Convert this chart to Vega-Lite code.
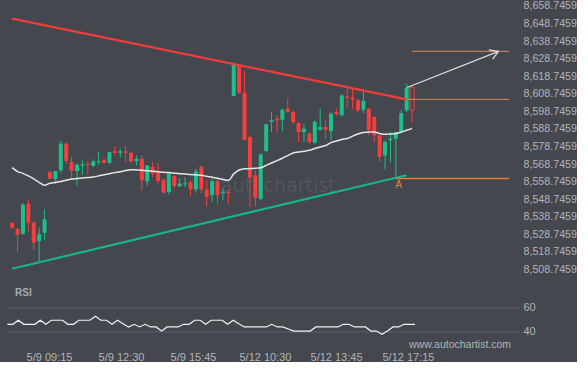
{
  "$schema": "https://vega.github.io/schema/vega-lite/v6.json",
  "background": "#44474d",
  "padding": {"top": -1, "left": 0, "right": 0, "bottom": 0},
  "spacing": 0,
  "bounds": "flush",
  "config": {
    "view": {"stroke": null},
    "font": "Liberation Sans",
    "axis": {"domain": false, "ticks": false, "tickSize": 0, "grid": false, "labelColor": "#b1b5ba", "labelFont": "Liberation Sans", "labelFontSize": 11, "labelOverlap": false}
  },
  "datasets": {
    "candles": [
      {"i":0,"o":8535.2,"h":8535.5,"l":8532.0,"c":8532.5,"ma":8566.7,"rsi":46.4},
      {"i":1,"o":8531.8,"h":8532.4,"l":8518.7,"c":8528.6,"ma":8564.5,"rsi":46.4},
      {"i":2,"o":8529.1,"h":8546.6,"l":8528.4,"c":8545.6,"ma":8563.5,"rsi":49.8},
      {"i":3,"o":8546.2,"h":8548.3,"l":8530.5,"c":8535.4,"ma":8562.0,"rsi":46.4},
      {"i":4,"o":8535.4,"h":8536.4,"l":8519.7,"c":8524.0,"ma":8560.3,"rsi":46.4},
      {"i":5,"o":8524.9,"h":8532.8,"l":8513.0,"c":8528.8,"ma":8558.3,"rsi":46.4},
      {"i":6,"o":8529.7,"h":8543.0,"l":8525.4,"c":8537.3,"ma":8556.7,"rsi":49.8},
      {"i":7,"o":8564.3,"h":8565.2,"l":8560.1,"c":8560.4,"ma":8557.9,"rsi":46.4},
      {"i":8,"o":8560.1,"h":8565.0,"l":8557.6,"c":8564.8,"ma":8558.3,"rsi":49.8},
      {"i":9,"o":8565.2,"h":8581.9,"l":8563.9,"c":8580.4,"ma":8558.8,"rsi":49.8},
      {"i":10,"o":8580.4,"h":8581.3,"l":8569.0,"c":8570.5,"ma":8559.6,"rsi":49.8},
      {"i":11,"o":8569.9,"h":8572.8,"l":8560.4,"c":8565.0,"ma":8560.2,"rsi":46.4},
      {"i":12,"o":8564.8,"h":8569.0,"l":8556.1,"c":8568.4,"ma":8560.5,"rsi":46.4},
      {"i":13,"o":8567.9,"h":8570.9,"l":8562.7,"c":8568.6,"ma":8560.8,"rsi":49.8},
      {"i":14,"o":8569.0,"h":8570.3,"l":8562.7,"c":8568.3,"ma":8561.1,"rsi":49.8},
      {"i":15,"o":8567.7,"h":8571.5,"l":8567.0,"c":8570.3,"ma":8561.4,"rsi":49.8},
      {"i":16,"o":8569.8,"h":8576.0,"l":8568.4,"c":8570.4,"ma":8562.0,"rsi":53.1},
      {"i":17,"o":8571.2,"h":8571.8,"l":8569.0,"c":8569.5,"ma":8562.7,"rsi":49.8},
      {"i":18,"o":8569.5,"h":8576.0,"l":8569.0,"c":8575.6,"ma":8563.3,"rsi":49.8},
      {"i":19,"o":8576.0,"h":8578.9,"l":8573.7,"c":8575.2,"ma":8563.9,"rsi":46.4},
      {"i":20,"o":8575.2,"h":8577.5,"l":8572.4,"c":8576.0,"ma":8564.4,"rsi":49.8},
      {"i":21,"o":8576.0,"h":8579.1,"l":8570.0,"c":8575.2,"ma":8565.1,"rsi":46.9},
      {"i":22,"o":8575.1,"h":8575.6,"l":8569.5,"c":8570.3,"ma":8565.6,"rsi":44.2},
      {"i":23,"o":8570.3,"h":8573.7,"l":8568.1,"c":8571.8,"ma":8565.4,"rsi":46.4},
      {"i":24,"o":8571.8,"h":8573.7,"l":8553.8,"c":8559.5,"ma":8565.2,"rsi":44.2},
      {"i":25,"o":8558.9,"h":8568.0,"l":8556.3,"c":8568.0,"ma":8564.9,"rsi":46.4},
      {"i":26,"o":8567.1,"h":8570.0,"l":8561.4,"c":8563.3,"ma":8564.7,"rsi":44.2},
      {"i":27,"o":8563.9,"h":8569.5,"l":8557.6,"c":8559.1,"ma":8564.4,"rsi":44.2},
      {"i":28,"o":8559.9,"h":8560.4,"l":8551.9,"c":8552.5,"ma":8564.1,"rsi":40.8},
      {"i":29,"o":8552.9,"h":8564.2,"l":8551.5,"c":8563.3,"ma":8563.9,"rsi":44.2},
      {"i":30,"o":8562.0,"h":8562.7,"l":8554.8,"c":8556.3,"ma":8563.6,"rsi":44.2},
      {"i":31,"o":8556.1,"h":8560.8,"l":8555.7,"c":8557.6,"ma":8563.3,"rsi":44.2},
      {"i":32,"o":8557.2,"h":8561.4,"l":8555.7,"c":8557.9,"ma":8563.1,"rsi":46.4},
      {"i":33,"o":8558.5,"h":8559.5,"l":8550.6,"c":8554.4,"ma":8562.8,"rsi":46.4},
      {"i":34,"o":8554.4,"h":8566.1,"l":8552.5,"c":8564.6,"ma":8562.6,"rsi":49.8},
      {"i":35,"o":8567.1,"h":8568.0,"l":8551.9,"c":8554.4,"ma":8562.4,"rsi":49.8},
      {"i":36,"o":8554.2,"h":8559.5,"l":8544.7,"c":8550.0,"ma":8561.8,"rsi":46.4},
      {"i":37,"o":8551.0,"h":8560.4,"l":8547.2,"c":8559.1,"ma":8561.3,"rsi":49.8},
      {"i":38,"o":8559.1,"h":8560.4,"l":8545.9,"c":8551.0,"ma":8560.7,"rsi":49.8},
      {"i":39,"o":8552.2,"h":8554.7,"l":8548.2,"c":8552.9,"ma":8560.0,"rsi":49.8},
      {"i":40,"o":8552.9,"h":8554.2,"l":8546.2,"c":8552.2,"ma":8559.5,"rsi":46.4},
      {"i":41,"o":8607.5,"h":8625.6,"l":8607.3,"c":8625.6,"ma":8563.2,"rsi":49.8},
      {"i":42,"o":8625.6,"h":8625.6,"l":8608.9,"c":8609.4,"ma":8565.4,"rsi":46.9},
      {"i":43,"o":8609.4,"h":8621.7,"l":8582.3,"c":8582.6,"ma":8566.1,"rsi":44.2},
      {"i":44,"o":8584.2,"h":8585.1,"l":8544.3,"c":8561.0,"ma":8566.2,"rsi":44.2},
      {"i":45,"o":8562.4,"h":8565.2,"l":8544.7,"c":8549.6,"ma":8566.4,"rsi":44.2},
      {"i":46,"o":8549.0,"h":8574.7,"l":8548.2,"c":8574.3,"ma":8566.7,"rsi":44.2},
      {"i":47,"o":8576.2,"h":8591.7,"l":8575.6,"c":8591.4,"ma":8568.0,"rsi":44.2},
      {"i":48,"o":8592.7,"h":8598.4,"l":8587.0,"c":8593.7,"ma":8569.4,"rsi":46.4},
      {"i":49,"o":8594.6,"h":8596.5,"l":8587.0,"c":8593.7,"ma":8570.7,"rsi":44.2},
      {"i":50,"o":8594.0,"h":8600.3,"l":8587.6,"c":8599.7,"ma":8572.1,"rsi":44.2},
      {"i":51,"o":8600.3,"h":8606.0,"l":8598.0,"c":8598.4,"ma":8573.6,"rsi":42.5},
      {"i":52,"o":8598.4,"h":8599.4,"l":8591.7,"c":8592.7,"ma":8575.1,"rsi":40.8},
      {"i":53,"o":8592.1,"h":8592.7,"l":8581.3,"c":8587.0,"ma":8575.6,"rsi":40.8},
      {"i":54,"o":8587.0,"h":8591.7,"l":8581.3,"c":8588.9,"ma":8576.1,"rsi":40.8},
      {"i":55,"o":8586.0,"h":8587.0,"l":8580.4,"c":8581.3,"ma":8576.6,"rsi":40.8},
      {"i":56,"o":8580.9,"h":8593.7,"l":8580.4,"c":8592.7,"ma":8577.6,"rsi":44.2},
      {"i":57,"o":8588.3,"h":8600.3,"l":8588.0,"c":8589.9,"ma":8578.5,"rsi":44.2},
      {"i":58,"o":8589.9,"h":8593.7,"l":8583.2,"c":8588.3,"ma":8579.3,"rsi":44.2},
      {"i":59,"o":8587.6,"h":8598.4,"l":8582.3,"c":8597.4,"ma":8581.0,"rsi":44.2},
      {"i":60,"o":8598.4,"h":8600.3,"l":8596.5,"c":8597.1,"ma":8581.9,"rsi":44.2},
      {"i":61,"o":8596.5,"h":8608.5,"l":8596.0,"c":8607.9,"ma":8582.8,"rsi":46.4},
      {"i":62,"o":8607.3,"h":8611.7,"l":8600.9,"c":8606.4,"ma":8583.3,"rsi":46.4},
      {"i":63,"o":8606.6,"h":8611.7,"l":8600.2,"c":8605.5,"ma":8584.7,"rsi":44.2},
      {"i":64,"o":8605.1,"h":8606.0,"l":8598.4,"c":8599.4,"ma":8585.9,"rsi":44.2},
      {"i":65,"o":8599.7,"h":8610.4,"l":8597.8,"c":8604.7,"ma":8586.7,"rsi":44.2},
      {"i":66,"o":8600.3,"h":8600.3,"l":8585.1,"c":8588.0,"ma":8587.0,"rsi":40.8},
      {"i":67,"o":8595.6,"h":8595.6,"l":8581.3,"c":8585.1,"ma":8587.0,"rsi":40.8},
      {"i":68,"o":8585.1,"h":8585.1,"l":8570.0,"c":8572.8,"ma":8586.2,"rsi":38.1},
      {"i":69,"o":8573.7,"h":8582.3,"l":8565.6,"c":8581.3,"ma":8585.7,"rsi":40.8},
      {"i":70,"o":8582.3,"h":8587.0,"l":8570.0,"c":8583.2,"ma":8585.9,"rsi":44.2},
      {"i":71,"o":8583.2,"h":8587.0,"l":8561.4,"c":8587.0,"ma":8586.1,"rsi":44.2},
      {"i":72,"o":8587.0,"h":8599.4,"l":8586.0,"c":8597.8,"ma":8587.0,"rsi":46.4},
      {"i":73,"o":8599.4,"h":8614.5,"l":8598.4,"c":8612.1,"ma":8588.0,"rsi":46.4},
      {"i":74,"o":8612.5,"h":8612.5,"l":8592.3,"c":8599.4,"ma":8589.0,"rsi":46.4,"forming":true}
    ],
    "segments": [
      {"kind":"resistance","i":0,"p":8651.52,"i2":73,"p2":8605.63},
      {"kind":"support","i":0,"p":8509.2,"i2":73,"p2":8562.4},
      {"kind":"arrow","i":73.08,"p":8612.36,"i2":90.0,"p2":8632.96},
      {"kind":"arrow","i":90.0,"p":8632.96,"i2":88.2,"p2":8633.82},
      {"kind":"arrow","i":90.0,"p":8632.96,"i2":88.9,"p2":8628.5},
      {"kind":"target","i":74,"p":8632.96,"i2":91.97,"p2":8632.96},
      {"kind":"breakout","i":73.3,"p":8605.6,"i2":91.97,"p2":8605.6},
      {"kind":"pattern","i":71.1,"p":8560.5,"i2":91.97,"p2":8560.5}
    ],
    "mainText": [
      {"kind":"watermark","label":"autochartist","i":38.6,"p":8552.9},
      {"kind":"point","label":"A","i":71.5,"p":8557.1}
    ],
    "rsiLevels": [{"v":60},{"v":40}],
    "rsiText": [
      {"kind":"title","label":"RSI","i":1.4,"r":72.7},
      {"kind":"site","label":"www.autochartist.com","i":72.9,"r":26.6}
    ]
  },
  "vconcat": [
    {
      "width": 520,
      "height": 272,
      "layer": [
        {
          "data": {"name": "mainText"},
          "transform": [{"filter": "datum.kind == 'watermark'"}],
          "mark": {"type": "text", "font": "DejaVu Sans", "fontSize": 19, "color": "#52565c", "align": "left", "baseline": "alphabetic"},
          "encoding": {
            "x": {"field": "i", "type": "quantitative", "scale": {"domain": [-1.325, 93.05], "nice": false, "zero": false}, "axis": null},
            "y": {"field": "p", "type": "quantitative", "scale": {"domain": [8506.19, 8661.02], "nice": false, "zero": false}, "title": null,
                  "axis": {"orient": "right", "values": [8508.7459,8518.7459,8528.7459,8538.7459,8548.7459,8558.7459,8568.7459,8578.7459,8588.7459,8598.7459,8608.7459,8618.7459,8628.7459,8638.7459,8648.7459,8658.7459], "tickCount": 40, "format": ",.4f", "labelPadding": 3, "labelFontSize": 10.7, "labelOverlap": false, "labelBound": false, "labelFlush": false, "title": null}},
            "text": {"field": "label"}
          }
        },
        {
          "data": {"name": "candles"},
          "transform": [{"filter": "!datum.forming"}],
          "mark": {"type": "rule", "strokeWidth": 1},
          "encoding": {
            "x": {"field": "i", "type": "quantitative", "axis": null},
            "y": {"field": "l", "type": "quantitative", "title": null},
            "y2": {"field": "h"},
            "color": {"condition": {"test": "datum.c >= datum.o", "value": "#1dbf8a"}, "value": "#f73e3e"}
          }
        },
        {
          "data": {"name": "candles"},
          "transform": [{"filter": "!datum.forming"}],
          "mark": {"type": "bar", "width": 4},
          "encoding": {
            "x": {"field": "i", "type": "quantitative", "axis": null},
            "y": {"field": "o", "type": "quantitative", "title": null},
            "y2": {"field": "c"},
            "color": {"condition": {"test": "datum.c >= datum.o", "value": "#1dbf8a"}, "value": "#f73e3e"}
          }
        },
        {
          "data": {"name": "candles"},
          "transform": [{"filter": "datum.forming"}],
          "mark": {"type": "rule", "strokeWidth": 1, "color": "#f73e3e"},
          "encoding": {
            "x": {"field": "i", "type": "quantitative", "axis": null},
            "y": {"field": "l", "type": "quantitative", "title": null},
            "y2": {"field": "c"}
          }
        },
        {
          "data": {"name": "candles"},
          "transform": [{"filter": "datum.forming"}],
          "mark": {"type": "bar", "width": 4, "filled": false, "stroke": "#f73e3e", "strokeWidth": 1},
          "encoding": {
            "x": {"field": "i", "type": "quantitative", "axis": null},
            "y": {"field": "o", "type": "quantitative", "title": null},
            "y2": {"field": "c"}
          }
        },
        {
          "data": {"name": "candles"},
          "mark": {"type": "line", "color": "#e6e6e6", "strokeWidth": 1.5, "interpolate": "monotone"},
          "encoding": {
            "x": {"field": "i", "type": "quantitative", "axis": null},
            "y": {"field": "ma", "type": "quantitative", "title": null}
          }
        },
        {
          "data": {"name": "segments"},
          "transform": [{"filter": "datum.kind == 'resistance'"}],
          "mark": {"type": "rule", "color": "#f03c3c", "strokeWidth": 2.2},
          "encoding": {
            "x": {"field": "i", "type": "quantitative", "axis": null},
            "x2": {"field": "i2"},
            "y": {"field": "p", "type": "quantitative", "title": null},
            "y2": {"field": "p2"}
          }
        },
        {
          "data": {"name": "segments"},
          "transform": [{"filter": "datum.kind == 'support'"}],
          "mark": {"type": "rule", "color": "#17b584", "strokeWidth": 2.2},
          "encoding": {
            "x": {"field": "i", "type": "quantitative", "axis": null},
            "x2": {"field": "i2"},
            "y": {"field": "p", "type": "quantitative", "title": null},
            "y2": {"field": "p2"}
          }
        },
        {
          "data": {"name": "segments"},
          "transform": [{"filter": "datum.kind == 'target' || datum.kind == 'breakout'"}],
          "mark": {"type": "rule", "color": "#e28a55", "strokeWidth": 1},
          "encoding": {
            "x": {"field": "i", "type": "quantitative", "axis": null},
            "x2": {"field": "i2"},
            "y": {"field": "p", "type": "quantitative", "title": null},
            "y2": {"field": "p2"}
          }
        },
        {
          "data": {"name": "segments"},
          "transform": [{"filter": "datum.kind == 'pattern'"}],
          "mark": {"type": "rule", "color": "#f07b2e", "strokeWidth": 1.5},
          "encoding": {
            "x": {"field": "i", "type": "quantitative", "axis": null},
            "x2": {"field": "i2"},
            "y": {"field": "p", "type": "quantitative", "title": null},
            "y2": {"field": "p2"}
          }
        },
        {
          "data": {"name": "segments"},
          "transform": [{"filter": "datum.kind == 'arrow'"}],
          "mark": {"type": "rule", "color": "#dcdcdc", "strokeWidth": 1.3},
          "encoding": {
            "x": {"field": "i", "type": "quantitative", "axis": null},
            "x2": {"field": "i2"},
            "y": {"field": "p", "type": "quantitative", "title": null},
            "y2": {"field": "p2"}
          }
        },
        {
          "mark": {"type": "rule", "color": "#cfcfcf", "strokeWidth": 1, "strokeDash": [3, 2]},
          "encoding": {
            "x": {"datum": 73, "type": "quantitative", "axis": null},
            "y": {"datum": 8658.75, "type": "quantitative", "title": null},
            "y2": {"datum": 8506.19}
          }
        },
        {
          "data": {"name": "mainText"},
          "transform": [{"filter": "datum.kind == 'point'"}],
          "mark": {"type": "text", "fontSize": 10, "color": "#e8843f", "align": "center", "baseline": "middle"},
          "encoding": {
            "x": {"field": "i", "type": "quantitative", "axis": null},
            "y": {"field": "p", "type": "quantitative", "title": null},
            "text": {"field": "label"}
          }
        }
      ]
    },
    {
      "width": 520,
      "height": 78,
      "layer": [
        {
          "data": {"name": "rsiLevels"},
          "mark": {"type": "rule", "color": "#5b5f65", "strokeWidth": 1},
          "encoding": {
            "x": {"datum": -0.1, "type": "quantitative", "scale": {"domain": [-1.325, 93.05], "nice": false, "zero": false}},
            "x2": {"datum": 93.05},
            "y": {"field": "v", "type": "quantitative", "scale": {"domain": [23.33, 88.33], "nice": false, "zero": false}, "title": null,
                  "axis": {"orient": "right", "values": [40, 60], "tickCount": 10, "labelPadding": 3, "labelOverlap": false, "title": null}}
          }
        },
        {
          "data": {"name": "candles"},
          "mark": {"type": "line", "color": "#f2f2f2", "strokeWidth": 1.2},
          "encoding": {
            "x": {"field": "i", "type": "quantitative", "title": null,
                  "axis": {"orient": "bottom", "values": [7.57, 20.64, 33.70, 46.77, 59.66, 72.72], "tickCount": 20, "labelPadding": -1, "labelFlush": false, "labelOverlap": false, "title": null,
                           "labelExpr": "datum.value < 14 ? '5/9 09:15' : datum.value < 27 ? '5/9 12:30' : datum.value < 40 ? '5/9 15:45' : datum.value < 53 ? '5/12 10:30' : datum.value < 66 ? '5/12 13:45' : '5/12 17:15'"}},
            "y": {"field": "rsi", "type": "quantitative", "title": null}
          }
        },
        {
          "mark": {"type": "rule", "color": "#cfcfcf", "strokeWidth": 1, "strokeDash": [3, 2]},
          "encoding": {
            "x": {"datum": 73, "type": "quantitative"}
          }
        },
        {
          "data": {"name": "rsiText"},
          "transform": [{"filter": "datum.kind == 'title'"}],
          "mark": {"type": "text", "fontSize": 10, "fontWeight": "bold", "color": "#a9adb2", "align": "left", "baseline": "middle"},
          "encoding": {
            "x": {"field": "i", "type": "quantitative", "title": null},
            "y": {"field": "r", "type": "quantitative", "title": null},
            "text": {"field": "label"}
          }
        },
        {
          "data": {"name": "rsiText"},
          "transform": [{"filter": "datum.kind == 'site'"}],
          "mark": {"type": "text", "fontSize": 10.5, "color": "#b1b5ba", "align": "left", "baseline": "alphabetic"},
          "encoding": {
            "x": {"field": "i", "type": "quantitative", "title": null},
            "y": {"field": "r", "type": "quantitative", "title": null},
            "text": {"field": "label"}
          }
        }
      ]
    }
  ]
}
